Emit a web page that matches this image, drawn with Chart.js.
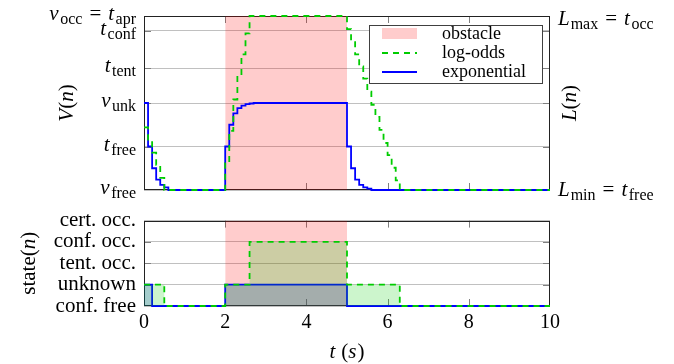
<!DOCTYPE html>
<html>
<head>
<meta charset="utf-8">
<script src="https://cdn.jsdelivr.net/npm/chart.js@4.4.1/dist/chart.umd.min.js"></script>
<style>
  html, body { margin: 0; padding: 0; background: #fff; }
  #wrap { position: relative; width: 674px; height: 364px; }
  #top { position: absolute; left: 0; top: 0; }
  #bot { position: absolute; left: 0; top: 200px; }
</style>
</head>
<body>
<div id="wrap">
  <canvas id="top" width="674" height="200"></canvas>
  <canvas id="bot" width="674" height="164"></canvas>
</div>
<script>
// time axis
const timeTicks = [0, 2, 4, 6, 8, 10];
const obstacleSpan = [2, 5];

// exponential model V(n), step values
const expTime = [0, 0.1, 0.2, 0.3, 0.4, 0.5, 0.6, 2.0, 2.1, 2.2, 2.3, 2.4, 2.5, 2.6, 2.7, 5.0, 5.1, 5.2, 5.3, 5.4, 5.5, 5.6, 10];
const expValue = [0.5, 0.25, 0.125, 0.06, 0.03, 0.015, 0, 0.25, 0.375, 0.44, 0.47, 0.485, 0.493, 0.497, 0.5, 0.25, 0.125, 0.06, 0.03, 0.015, 0.008, 0, 0];

// log-odds model L(n), step values
const logTime = [0, 0.1, 0.2, 0.3, 0.4, 0.5, 2.0, 2.1, 2.2, 2.3, 2.4, 2.5, 2.6, 5.0, 5.1, 5.2, 5.3, 5.4, 5.5, 5.6, 5.7, 5.8, 5.9, 6.0, 6.1, 6.2, 6.3, 10];
const logValue = [0.36, 0.29, 0.215, 0.145, 0.07, 0, 0.155, 0.34, 0.52, 0.66, 0.78, 0.9, 1.0, 0.925, 0.85, 0.78, 0.71, 0.64, 0.565, 0.49, 0.42, 0.345, 0.27, 0.2, 0.128, 0.055, 0, 0];

// states (0 = conf. free ... 4 = cert. occ.)
const expStateTime = [0, 0.2, 2, 5, 10];
const expState = [1, 0, 1, 0, 0];
const logStateTime = [0, 0.5, 2, 2.6, 5, 6.3, 10];
const logState = [1, 0, 1, 3, 1, 0, 0];
const stateNames = ['conf. free', 'unknown', 'tent. occ.', 'conf. occ.', 'cert. occ.'];

// levels on the V / L axis ('g' = small gap in px)
const levelValues = [0, 0.25, 0.5, 0.7, 0.915, 1];
const levelLabels = [
  [['v', 'i'], [1.5, 'g'], ['free', 's']],
  [['t', 'i'], [1.5, 'g'], ['free', 's']],
  [['v', 'i'], [1.5, 'g'], ['unk', 's']],
  [['t', 'i'], [1.5, 'g'], ['tent', 's']],
  [['t', 'i'], [1.5, 'g'], ['conf', 's']],
  [['v', 'i'], [1.5, 'g'], ['occ', 's'], [7, 'g'], ['=', 'r'], [7, 'g'], ['t', 'i'], [1.5, 'g'], ['apr', 's']]
];
const rightLabelMax = [['L', 'i'], [1, 'g'], ['max', 's'], [7, 'g'], ['=', 'r'], [7, 'g'], ['t', 'i'], [1.5, 'g'], ['occ', 's']];
const rightLabelMin = [['L', 'i'], [1, 'g'], ['min', 's'], [7, 'g'], ['=', 'r'], [7, 'g'], ['t', 'i'], [1.5, 'g'], ['free', 's']];
const legendNames = ['obstacle', 'log-odds', 'exponential'];

const SERIF = '"Liberation Serif", "Times New Roman", serif';
const RED_FILL = 'rgba(255, 0, 0, 0.2)';
const GREEN = 'rgb(0, 204, 0)';
const BLUE = 'rgb(0, 0, 255)';

function pts(ts, vs) {
  return ts.map((t, i) => ({ x: t, y: vs[i] }));
}

function mathFont(kind) {
  if (kind === 'i') return 'italic 21px ' + SERIF;
  if (kind === 's') return '16px ' + SERIF;
  return '21px ' + SERIF;
}

function partWidth(ctx, p) {
  if (p[1] === 'g') return p[0];
  ctx.font = mathFont(p[1]);
  return ctx.measureText(p[0]).width;
}

// draws text with italic letters and small subscripts
function drawMath(ctx, parts, x, y, align) {
  let w = 0;
  parts.forEach(p => { w += partWidth(ctx, p); });
  let cx = x;
  if (align === 'right') cx = x - w;
  if (align === 'center') cx = x - w / 2;
  ctx.textAlign = 'left';
  ctx.textBaseline = 'alphabetic';
  ctx.fillStyle = '#000';
  parts.forEach(p => {
    if (p[1] !== 'g') {
      ctx.font = mathFont(p[1]);
      ctx.fillText(p[0], cx, p[1] === 's' ? y + 4 : y);
    }
    cx += partWidth(ctx, p);
  });
}

function drawRotated(ctx, parts, x, y) {
  ctx.save();
  ctx.translate(x, y);
  ctx.rotate(-Math.PI / 2);
  drawMath(ctx, parts, 0, 7, 'center');
  ctx.restore();
}

// pgfplots-like frame with inner tick marks, under the curves
function frameTicks(xs, ys) {
  return {
    id: 'frameTicks',
    beforeDatasetsDraw(chart) {
      const { ctx, chartArea: a, scales } = chart;
      ctx.save();
      ctx.strokeStyle = '#808080';
      ctx.lineWidth = 1;
      ctx.beginPath();
      xs.forEach(v => {
        const px = Math.round(scales.x.getPixelForValue(v)) + 0.5;
        ctx.moveTo(px, a.bottom); ctx.lineTo(px, a.bottom - 7);
        ctx.moveTo(px, a.top); ctx.lineTo(px, a.top + 7);
      });
      ys.forEach(v => {
        const py = Math.round(scales.y.getPixelForValue(v)) + 0.5;
        ctx.moveTo(a.left, py); ctx.lineTo(a.left + 7, py);
        ctx.moveTo(a.right, py); ctx.lineTo(a.right - 7, py);
      });
      ctx.stroke();
      ctx.strokeStyle = '#222';
      ctx.strokeRect(Math.round(a.left) + 0.5, Math.round(a.top) + 0.5,
        Math.round(a.right - a.left) - 1, Math.round(a.bottom - a.top) - 1);
      ctx.restore();
    }
  };
}

const topLabels = {
  id: 'topLabels',
  afterDraw(chart) {
    const { ctx, chartArea: a, scales } = chart;
    const y = scales.y;
    levelValues.forEach((v, i) => {
      drawMath(ctx, levelLabels[i], a.left - 8, y.getPixelForValue(v) + 4, 'right');
    });
    drawMath(ctx, rightLabelMax, a.right + 8, y.getPixelForValue(1) + 9, 'left');
    drawMath(ctx, rightLabelMin, a.right + 8, y.getPixelForValue(0) + 6, 'left');
    drawRotated(ctx, [['V', 'i'], ['(', 'r'], ['n', 'i'], [')', 'r']], 66, (a.top + a.bottom) / 2);
    drawRotated(ctx, [['L', 'i'], ['(', 'r'], ['n', 'i'], [')', 'r']], 569, (a.top + a.bottom) / 2);

    // legend
    const ds = chart.data.datasets;
    const bx = a.right - 181, by = a.top + 9, bw = 173, bh = 58;
    ctx.save();
    ctx.fillStyle = '#fff';
    ctx.fillRect(bx, by, bw, bh);
    ctx.strokeStyle = '#404040';
    ctx.lineWidth = 1;
    ctx.strokeRect(bx + 0.5, by + 0.5, bw, bh);
    ctx.fillStyle = ds[0].backgroundColor;
    ctx.fillRect(bx + 13, by + 3, 35, 11);
    ctx.lineWidth = 1.8;
    ctx.strokeStyle = ds[2].borderColor;
    ctx.setLineDash([6, 5]);
    ctx.beginPath(); ctx.moveTo(bx + 13, by + 28); ctx.lineTo(bx + 48, by + 28); ctx.stroke();
    ctx.setLineDash([]);
    ctx.strokeStyle = ds[1].borderColor;
    ctx.beginPath(); ctx.moveTo(bx + 13, by + 47); ctx.lineTo(bx + 48, by + 47); ctx.stroke();
    ctx.font = '18px ' + SERIF;
    ctx.fillStyle = '#000';
    ctx.textAlign = 'left';
    ctx.textBaseline = 'middle';
    legendNames.forEach((n, i) => ctx.fillText(n, bx + 73, by + 9 + i * 19));
    ctx.restore();
  }
};

const botLabels = {
  id: 'botLabels',
  afterDraw(chart) {
    const { ctx, chartArea: a } = chart;
    drawRotated(ctx, [['state', 'r'], ['(', 'r'], ['n', 'i'], [')', 'r']], 28, (a.top + a.bottom) / 2);
    drawMath(ctx, [['t', 'i'], [6, 'g'], ['(', 'r'], ['s', 'i'], [1, 'g'], [')', 'r']], (a.left + a.right) / 2, 158, 'center');
  }
};

Chart.defaults.font.family = SERIF;
Chart.defaults.font.size = 21;
Chart.defaults.color = '#000';

new Chart(document.getElementById('top'), {
  type: 'line',
  data: {
    datasets: [
      {
        data: pts(obstacleSpan, [1, 1]), fill: 'start', backgroundColor: RED_FILL,
        borderWidth: 0, pointRadius: 0, order: 3
      },
      {
        data: pts(expTime, expValue), stepped: true, borderColor: BLUE, borderWidth: 1.8,
        pointRadius: 0, fill: false, order: 2, clip: 3
      },
      {
        data: pts(logTime, logValue), stepped: true, borderColor: GREEN, borderWidth: 1.8,
        borderDash: [6, 5], pointRadius: 0, fill: false, order: 1, clip: 3
      }
    ]
  },
  options: {
    responsive: false,
    animation: false,
    events: [],
    layout: { padding: { top: 16, right: 124, bottom: 10, left: 0 } },
    plugins: { legend: { display: false }, tooltip: { enabled: false } },
    scales: {
      x: { type: 'linear', min: 0, max: 10, display: false },
      y: {
        min: 0, max: 1,
        afterBuildTicks: s => { s.ticks = levelValues.map(v => ({ value: v })); },
        afterFit: s => { s.width = 144; },
        ticks: { display: false },
        grid: { color: '#c0c0c0', drawTicks: false },
        border: { display: false }
      }
    }
  },
  plugins: [frameTicks([2, 4, 6, 8], levelValues.slice(1, -1)), topLabels]
});

new Chart(document.getElementById('bot'), {
  type: 'line',
  data: {
    datasets: [
      {
        data: pts(obstacleSpan, [4, 4]), fill: 'start', backgroundColor: RED_FILL,
        borderWidth: 0, pointRadius: 0, order: 3
      },
      {
        data: pts(expStateTime, expState), stepped: true, borderColor: BLUE, borderWidth: 1.8,
        backgroundColor: 'rgba(0, 0, 255, 0.2)', pointRadius: 0, fill: 'origin', order: 2, clip: 3
      },
      {
        data: pts(logStateTime, logState), stepped: true, borderColor: GREEN, borderWidth: 1.8,
        borderDash: [6, 5], backgroundColor: 'rgba(0, 204, 0, 0.2)', pointRadius: 0, fill: 'origin', order: 1, clip: 3
      }
    ]
  },
  options: {
    responsive: false,
    animation: false,
    events: [],
    layout: { padding: { top: 19, right: 124, bottom: 0, left: 0 } },
    plugins: { legend: { display: false }, tooltip: { enabled: false } },
    scales: {
      x: {
        type: 'linear', min: 0, max: 10,
        afterBuildTicks: s => { s.ticks = timeTicks.map(v => ({ value: v })); },
        afterFit: s => { s.height = 58; },
        ticks: { padding: 5, maxRotation: 0, autoSkip: false, font: { size: 20 } },
        grid: { display: false, drawTicks: false },
        border: { display: false }
      },
      y: {
        min: 0, max: 4,
        afterBuildTicks: s => { s.ticks = stateNames.map((n, i) => ({ value: i })); },
        afterFit: s => { s.width = 144; },
        ticks: { padding: 8, autoSkip: false, callback: v => stateNames[v] },
        grid: { color: '#c0c0c0', drawTicks: false },
        border: { display: false }
      }
    }
  },
  plugins: [frameTicks([2, 4, 6, 8], [1, 2, 3]), botLabels]
});
</script>
</body>
</html>
